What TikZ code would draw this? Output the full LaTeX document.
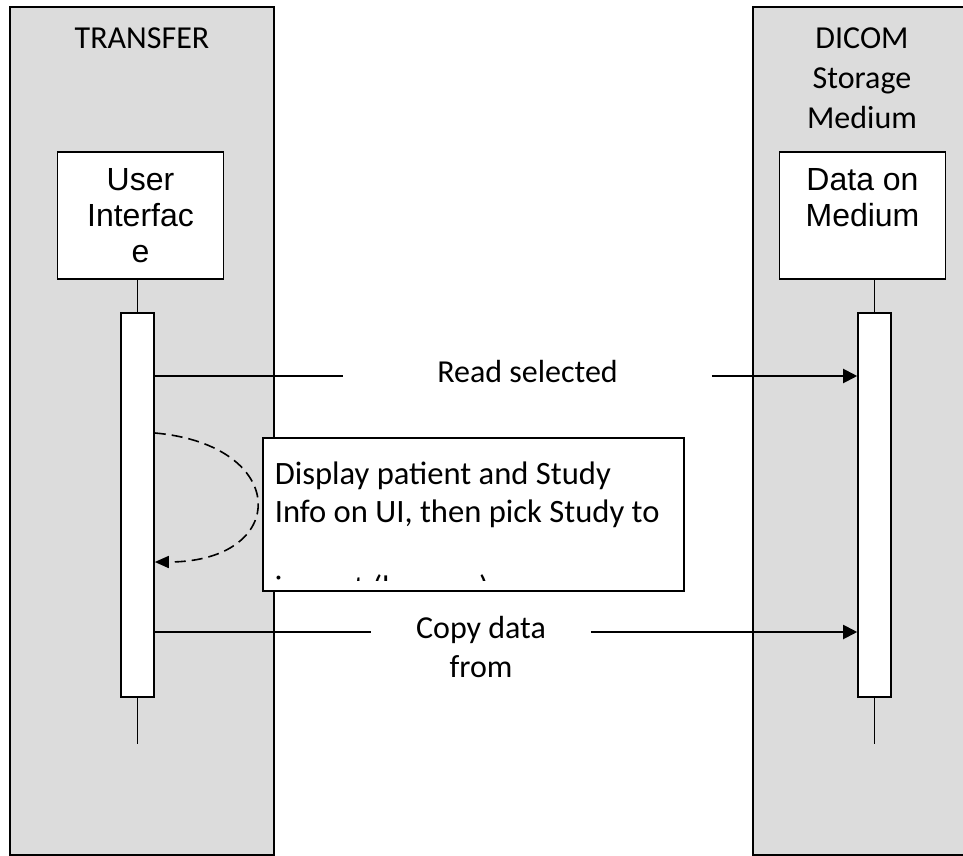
\documentclass[tikz,border=0pt]{standalone}
\usepackage{fontspec}
\setmainfont{Carlito}
\newfontfamily\arialfont{Liberation Sans}
\usetikzlibrary{arrows.meta,positioning}
\definecolor{lanegray}{RGB}{220,220,220}

\begin{document}
\begin{tikzpicture}[x=0.5pt,y=-0.5pt,line width=0.8pt,
  font=\fontsize{16}{20}\selectfont,
  lanelbl/.style={anchor=north,inner sep=0pt,align=center},
  objbox/.style={draw,fill=white,minimum width=83pt,minimum height=63.5pt,
    inner sep=2pt,align=center,font=\arialfont\fontsize{16}{18}\selectfont},
  actbar/.style={draw,fill=white,minimum width=16.5pt,minimum height=192pt,
    inner sep=0pt,anchor=north},
  msg/.style={inner sep=1.5pt,text height=11pt,text depth=5pt},
  msgline/.style={line width=1pt,-{Triangle[length=7pt,width=7pt]}},
  selfmsg/.style={dash pattern=on 5.5pt off 3pt,-{Triangle[length=7pt,width=6pt]}},
  notebox/.style={draw,fill=white,anchor=north west,inner sep=0pt,
    minimum width=210.5pt,minimum height=76.5pt}]
\useasboundingbox (0,0) rectangle (963,856);
% swim lanes
\fill[lanegray] (10,7) rectangle (274,855);
\draw (10,7) rectangle (274,855);
\fill[lanegray] (753,7) rectangle (963,855);
\draw (963,7) -- (753,7) -- (753,855) -- (963,855);
\node[lanelbl] (transfer) at (142,27) {TRANSFER};
\node[lanelbl] (dicom) at (862,27) {DICOM\\Storage\\Medium};

% objects and lifelines
\node[objbox] (ui) at (140.5,215.5) {User\\Interfac\\e};
\node[objbox] (data) at (862.5,215.5) {Data on\\Medium\\\phantom{e}};
\node[actbar] (act1) at (137.5,312) {};
\node[actbar] (act2) at (874.5,312) {};
\coordinate (end1) at (137.5,744);
\coordinate (end2) at (874.5,744);
\foreach \N/\O in {1/ui,2/data}
  \draw (act\N.north |- \O.south) -- (act\N.north) (act\N.south) -- (end\N);

% messages
\node[msg,minimum width=183.5pt] (read) at (527.5,376) {Read selected};
\draw[line width=1pt] (act1.east |- read.west) -- (read.west);
\draw[msgline] (read.east) -- (act2.west |- read.east);

\node[msg,minimum width=109pt] (copy) at (481,632) {Copy data};
\node[msg,below=0pt of copy] (copyb) {from};
\draw[line width=1pt] (act1.east |- copy.west) -- (copy.west);
\draw[msgline] (copy.east) -- (act2.west |- copy.east);

\coordinate (selfA) at ([yshift=-60.5pt]act1.north east);
\coordinate (selfB) at ([yshift=-125pt]act1.north east);
\draw[selfmsg] (selfA) to[out=-5,in=0,looseness=2.7] (selfB);

% note
\node[notebox] (note) at (262,437) {};
\begin{scope}
  \clip (note.north west) rectangle ([yshift=5.5pt]note.south east);
  \node[anchor=north west,inner sep=0pt,align=left,font=\fontsize{16.3}{19}\selectfont]
    (notetxt) at (274,461) {Display patient and Study\\Info on UI, then pick Study to\\[19pt]import (browse)};
\end{scope}
\end{tikzpicture}
\end{document}
